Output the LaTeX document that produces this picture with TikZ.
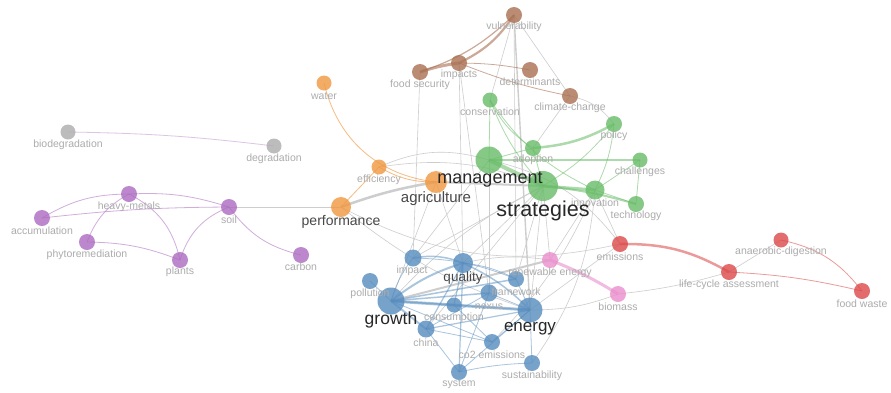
\documentclass[tikz,border=0pt]{standalone}
\usepackage{fontspec}
\setmainfont{Liberation Sans}
\pgfdeclarelayer{bglayer}
\pgfdeclarelayer{edgelayer}
\pgfsetlayers{bglayer,edgelayer,main}
\definecolor{cblue}{RGB}{86,140,190}
\definecolor{cgreen}{RGB}{104,188,104}
\definecolor{corange}{RGB}{240,152,64}
\definecolor{cbrown}{RGB}{170,112,82}
\definecolor{cpurple}{RGB}{172,106,192}
\definecolor{cgrey}{RGB}{172,172,172}
\definecolor{cred}{RGB}{220,72,72}
\definecolor{cpink}{RGB}{234,142,204}
\definecolor{edgegray}{RGB}{205,205,205}
\definecolor{labgray}{RGB}{172,172,172}
\definecolor{labmid}{RGB}{72,72,72}
\definecolor{labdark}{RGB}{40,40,40}
\tikzset{
  kw/.style={circle, inner sep=0pt, draw=none, fill opacity=0.8},
  bl/.style={kw, fill=cblue},
  gr/.style={kw, fill=cgreen},
  orn/.style={kw, fill=corange},
  brn/.style={kw, fill=cbrown},
  pur/.style={kw, fill=cpurple},
  gry/.style={kw, fill=cgrey},
  rd/.style={kw, fill=cred},
  pk/.style={kw, fill=cpink},
  lab/.style={inner sep=0pt, text=labgray, font=\fontsize{10.5}{12}\selectfont},
  labm/.style={inner sep=0pt, text=labmid},
  labd/.style={inner sep=0pt, text=labdark},
  ge/.style={draw=edgegray, line width=0.6pt},
  bre/.style={draw=cbrown, draw opacity=0.6, line width=0.8pt},
  gre/.style={draw=cgreen, draw opacity=0.55, line width=0.8pt},
  ore/.style={draw=corange, draw opacity=0.65, line width=0.8pt},
  pue/.style={draw=cpurple, draw opacity=0.55, line width=0.8pt},
  ble/.style={draw=cblue, draw opacity=0.5, line width=0.8pt},
  rde/.style={draw=cred, draw opacity=0.55, line width=0.8pt},
  pke/.style={draw=cpink, draw opacity=0.6, line width=0.8pt},
}
\begin{document}
\begin{tikzpicture}[x=1pt,y=-1pt]
\begin{pgfonlayer}{bglayer}
\fill[white] (0,0) rectangle (891,392);
\end{pgfonlayer}
\useasboundingbox (0,0) rectangle (891,392);
% ---------- nodes ----------
% brown
\node[brn, minimum size=16pt] (vul) at (514,15) {};
\node[brn, minimum size=16pt] (imp) at (459,63) {};
\node[brn, minimum size=16pt] (fs) at (420,72) {};
\node[brn, minimum size=16pt] (det) at (530,70) {};
\node[brn, minimum size=16pt] (cc) at (570,96) {};
% green
\node[gr, minimum size=15pt] (cons) at (490,100) {};
\node[gr, minimum size=16pt] (adop) at (533,148) {};
\node[gr, minimum size=16pt] (pol) at (614,124) {};
\node[gr, minimum size=15pt] (chal) at (640,160) {};
\node[gr, minimum size=27pt] (mgmt) at (489,160) {};
\node[gr, minimum size=30pt] (strat) at (543,186) {};
\node[gr, minimum size=19pt] (innov) at (595,190) {};
\node[gr, minimum size=16pt] (tech) at (636,204) {};
% orange
\node[orn, minimum size=15pt] (water) at (324,83) {};
\node[orn, minimum size=15pt] (eff) at (379,167) {};
\node[orn, minimum size=22pt] (agri) at (436,182) {};
\node[orn, minimum size=20pt] (perf) at (341,207) {};
% grey
\node[gry, minimum size=15pt] (biod) at (68,132) {};
\node[gry, minimum size=15pt] (degr) at (274,146) {};
% purple
\node[pur, minimum size=16pt] (hm) at (129,194) {};
\node[pur, minimum size=16pt] (acc) at (42,218) {};
\node[pur, minimum size=16pt] (phyto) at (87,242) {};
\node[pur, minimum size=16pt] (plants) at (180,260) {};
\node[pur, minimum size=16pt] (soil) at (229,207) {};
\node[pur, minimum size=16pt] (carbon) at (301,255) {};
% blue
\node[bl, minimum size=17pt] (impact) at (413,258) {};
\node[bl, minimum size=20pt] (qual) at (463,263) {};
\node[bl, minimum size=16pt] (poll) at (370,281) {};
\node[bl, minimum size=27pt] (growth) at (391,301) {};
\node[bl, minimum size=15pt] (consu) at (454,305) {};
\node[bl, minimum size=17pt] (nexus) at (489,293) {};
\node[bl, minimum size=16pt] (frame) at (516,279) {};
\node[bl, minimum size=25pt] (energy) at (530,310) {};
\node[bl, minimum size=17pt] (china) at (426,329) {};
\node[bl, minimum size=16pt] (co2) at (492,342) {};
\node[bl, minimum size=16pt] (system) at (459,372) {};
\node[bl, minimum size=16pt] (sust) at (532,363) {};
% pink
\node[pk, minimum size=16pt] (ren) at (550,260) {};
\node[pk, minimum size=16pt] (bio) at (618,294) {};
% red
\node[rd, minimum size=16pt] (emis) at (620,244) {};
\node[rd, minimum size=16pt] (lca) at (729,272) {};
\node[rd, minimum size=15pt] (ad) at (781,240) {};
\node[rd, minimum size=16pt] (fw) at (862,291) {};
% ---------- edges ----------
\begin{pgfonlayer}{edgelayer}
% grey links between clusters
\draw[ge, line width=1.4pt] (vul.center) -- (energy.center);
\draw[ge] (vul.center) -- (frame.center);
\draw[ge] (vul.center) -- (cons.center);
\draw[ge] (vul.center) -- (cc.center);
\draw[ge] (imp.center) -- (qual.center);
\draw[ge] (imp.center) -- (nexus.center);
\draw[ge] (fs.center) -- (impact.center);
\draw[ge] (cc.center) to[bend left=20] (pol.center);
\draw[ge] (cc.center) -- (adop.center);
\draw[ge, line width=2.5pt] (perf.center) to[bend left=5] (agri.center);
\draw[ge, line width=2pt] (agri.center) -- (strat.center);
\draw[ge] (perf.center) -- (soil.center);
\draw[ge] (eff.center) to[bend left=15] (strat.center);
\draw[ge] (eff.center) to[bend left=20] (mgmt.center);
\draw[ge] (perf.center) to[bend right=20] (emis.center);
\draw[ge] (perf.center) to[bend right=10] (energy.center);
\draw[ge] (impact.center) -- (strat.center);
\draw[ge] (impact.center) -- (mgmt.center);
\draw[ge] (qual.center) -- (strat.center);
\draw[ge] (qual.center) -- (agri.center);
\draw[ge] (growth.center) -- (agri.center);
\draw[ge] (growth.center) to[bend left=10] (strat.center);
\draw[ge] (nexus.center) -- (mgmt.center);
\draw[ge] (frame.center) -- (strat.center);
\draw[ge] (energy.center) -- (strat.center);
\draw[ge] (co2.center) to[bend right=10] (innov.center);
\draw[ge] (sust.center) to[bend right=15] (innov.center);
\draw[ge] (ren.center) -- (strat.center);
\draw[ge] (ren.center) -- (innov.center);
\draw[ge, line width=2pt] (growth.center) -- (ren.center);
\draw[ge] (qual.center) to[bend left=10] (ren.center);
\draw[ge] (energy.center) -- (emis.center);
\draw[ge] (energy.center) to[bend right=10] (bio.center);
\draw[ge] (bio.center) to[bend right=5] (lca.center);
\draw[ge] (lca.center) -- (ad.center);
\draw[ge] (emis.center) -- (innov.center);
\draw[ge] (emis.center) to[bend right=20] (mgmt.center);
\draw[ge] (china.center) -- (strat.center);
% brown
\draw[bre, line width=3pt] (fs.center) to[bend left=5] (imp.center);
\draw[bre, line width=2.2pt] (imp.center) to[bend right=15] (vul.center);
\draw[bre, line width=1.2pt] (fs.center) to[bend right=12] (vul.center);
\draw[bre] (imp.center) to[bend left=5] (det.center);
\draw[bre] (imp.center) to[bend right=5] (cc.center);
% orange
\draw[ore] (water.center) to[bend right=35] (agri.center);
\draw[ore] (eff.center) to[bend right=15] (agri.center);
\draw[ore] (eff.center) -- (perf.center);
% green
\draw[gre, line width=4pt] (mgmt.center) -- (strat.center);
\draw[gre, line width=2.5pt] (mgmt.center) -- (chal.center);
\draw[gre, line width=2.5pt] (adop.center) to[bend right=12] (pol.center);
\draw[gre, line width=3pt] (strat.center) -- (innov.center);
\draw[gre, line width=2pt] (strat.center) to[bend left=5] (tech.center);
\draw[gre] (innov.center) -- (tech.center);
\draw[gre] (innov.center) -- (chal.center);
\draw[gre] (chal.center) -- (tech.center);
\draw[gre] (innov.center) to[bend right=10] (pol.center);
\draw[gre] (strat.center) to[bend right=10] (pol.center);
\draw[gre] (adop.center) -- (strat.center);
\draw[gre] (mgmt.center) -- (adop.center);
\draw[gre] (cons.center) -- (mgmt.center);
\draw[gre] (cons.center) to[bend right=15] (adop.center);
\draw[gre] (cons.center) to[bend right=10] (strat.center);
\draw[gre] (cons.center) to[bend right=15] (innov.center);
% purple and grey pair
\draw[pue] (hm.center) to[bend left=10] (soil.center);
\draw[pue] (acc.center) to[bend left=3] (soil.center);
\draw[pue] (acc.center) to[bend left=15] (hm.center);
\draw[pue] (hm.center) to[bend right=20] (phyto.center);
\draw[pue] (hm.center) to[bend left=25] (plants.center);
\draw[pue] (phyto.center) to[bend left=10] (plants.center);
\draw[pue] (plants.center) to[bend left=25] (soil.center);
\draw[pue] (soil.center) to[bend right=20] (carbon.center);
\draw[pue, draw opacity=0.4] (biod.center) to[bend left=3] (degr.center);
% blue
\draw[ble, line width=3pt] (growth.center) -- (energy.center);
\draw[ble, line width=2pt] (growth.center) to[bend left=10] (qual.center);
\draw[ble, line width=1.5pt] (growth.center) -- (nexus.center);
\draw[ble, line width=1.5pt] (growth.center) -- (frame.center);
\draw[ble, line width=2pt] (growth.center) -- (china.center);
\draw[ble] (growth.center) -- (poll.center);
\draw[ble, line width=1.5pt] (growth.center) -- (consu.center);
\draw[ble] (growth.center) to[bend left=10] (impact.center);
\draw[ble] (growth.center) -- (co2.center);
\draw[ble, line width=1.5pt] (qual.center) to[bend left=10] (energy.center);
\draw[ble, line width=1.2pt] (qual.center) -- (consu.center);
\draw[ble, line width=1.2pt] (qual.center) -- (system.center);
\draw[ble] (qual.center) to[bend left=10] (frame.center);
\draw[ble, line width=1.5pt] (impact.center) to[bend left=15] (qual.center);
\draw[ble] (impact.center) to[bend left=10] (frame.center);
\draw[ble, line width=1.2pt] (consu.center) -- (energy.center);
\draw[ble] (consu.center) -- (co2.center);
\draw[ble, line width=1.2pt] (china.center) -- (energy.center);
\draw[ble] (china.center) -- (system.center);
\draw[ble] (china.center) -- (co2.center);
\draw[ble] (co2.center) -- (energy.center);
\draw[ble] (system.center) to[bend left=5] (sust.center);
\draw[ble] (energy.center) -- (sust.center);
\draw[ble] (nexus.center) -- (energy.center);
\draw[ble] (frame.center) -- (energy.center);
\draw[ble] (system.center) -- (energy.center);
\draw[ble] (nexus.center) -- (china.center);
\draw[ble, line width=1.2pt] (qual.center) -- (china.center);
\draw[ble] (nexus.center) -- (system.center);
% pink
\draw[pke, line width=3pt] (ren.center) to[bend left=5] (bio.center);
% red
\draw[rde, line width=2.5pt] (emis.center) to[bend left=15] (lca.center);
\draw[rde] (lca.center) to[bend left=5] (fw.center);
\draw[rde] (ad.center) to[bend left=20] (fw.center);
\end{pgfonlayer}
% ---------- labels ----------
\node[lab] (l-vul) at (514,27) {vulnerability};
\node[lab] (l-imp) at (459,75) {impacts};
\node[lab] (l-fs) at (420,85) {food security};
\node[lab] (l-det) at (530,82) {determinants};
\node[lab] (l-cc) at (570,108) {climate-change};
\node[lab] (l-water) at (324,96) {water};
\node[lab] (l-cons) at (490,112) {conservation};
\node[lab] (l-adop) at (533,160) {adoption};
\node[lab] (l-pol) at (614,136) {policy};
\node[lab] (l-chal) at (640,172) {challenges};
\node[lab] (l-innov) at (595,203) {innovation};
\node[lab] (l-tech) at (636,216) {technology};
\node[lab] (l-eff) at (379,180) {efficiency};
\node[lab] (l-biod) at (68,145) {biodegradation};
\node[lab] (l-degr) at (274,159) {degradation};
\node[lab] (l-hm) at (129,207) {heavy-metals};
\node[lab] (l-acc) at (42,231) {accumulation};
\node[lab] (l-phyto) at (87,255) {phytoremediation};
\node[lab] (l-plants) at (180,272) {plants};
\node[lab] (l-soil) at (229,220) {soil};
\node[lab] (l-carbon) at (301,267) {carbon};
\node[lab] (l-impact) at (412,271) {impact};
\node[lab] (l-poll) at (370,294) {pollution};
\node[lab] (l-consu) at (454,318) {consumption};
\node[lab] (l-nexus) at (489,307) {nexus};
\node[lab] (l-frame) at (516,292) {framework};
\node[lab] (l-china) at (426,343) {china};
\node[lab] (l-co2) at (492,355) {co2 emissions};
\node[lab] (l-system) at (459,384) {system};
\node[lab] (l-sust) at (532,376) {sustainability};
\node[lab] (l-ren) at (550,273) {renewable energy};
\node[lab] (l-bio) at (618,307) {biomass};
\node[lab] (l-emis) at (620,257) {emissions};
\node[lab] (l-lca) at (729,285) {life-cycle assessment};
\node[lab] (l-ad) at (781,252) {anaerobic-digestion};
\node[lab] (l-fw) at (862,304) {food waste};
\node[labm, font=\fontsize{15}{17}\selectfont] (l-agri) at (436,199) {agriculture};
\node[labm, font=\fontsize{14}{16}\selectfont] (l-perf) at (341,222) {performance};
\node[labm, font=\fontsize{13.5}{16}\selectfont] (l-qual) at (463,278) {quality};
\node[labd, font=\fontsize{17.5}{20}\selectfont] (l-growth) at (391,320) {growth};
\node[labd, font=\fontsize{17}{20}\selectfont] (l-energy) at (530,329) {energy};
\node[labd, font=\fontsize{18}{21}\selectfont] (l-mgmt) at (490,180) {management};
\node[labd, font=\fontsize{21.5}{24}\selectfont] (l-strat) at (543,211) {strategies};
\end{tikzpicture}
\end{document}
